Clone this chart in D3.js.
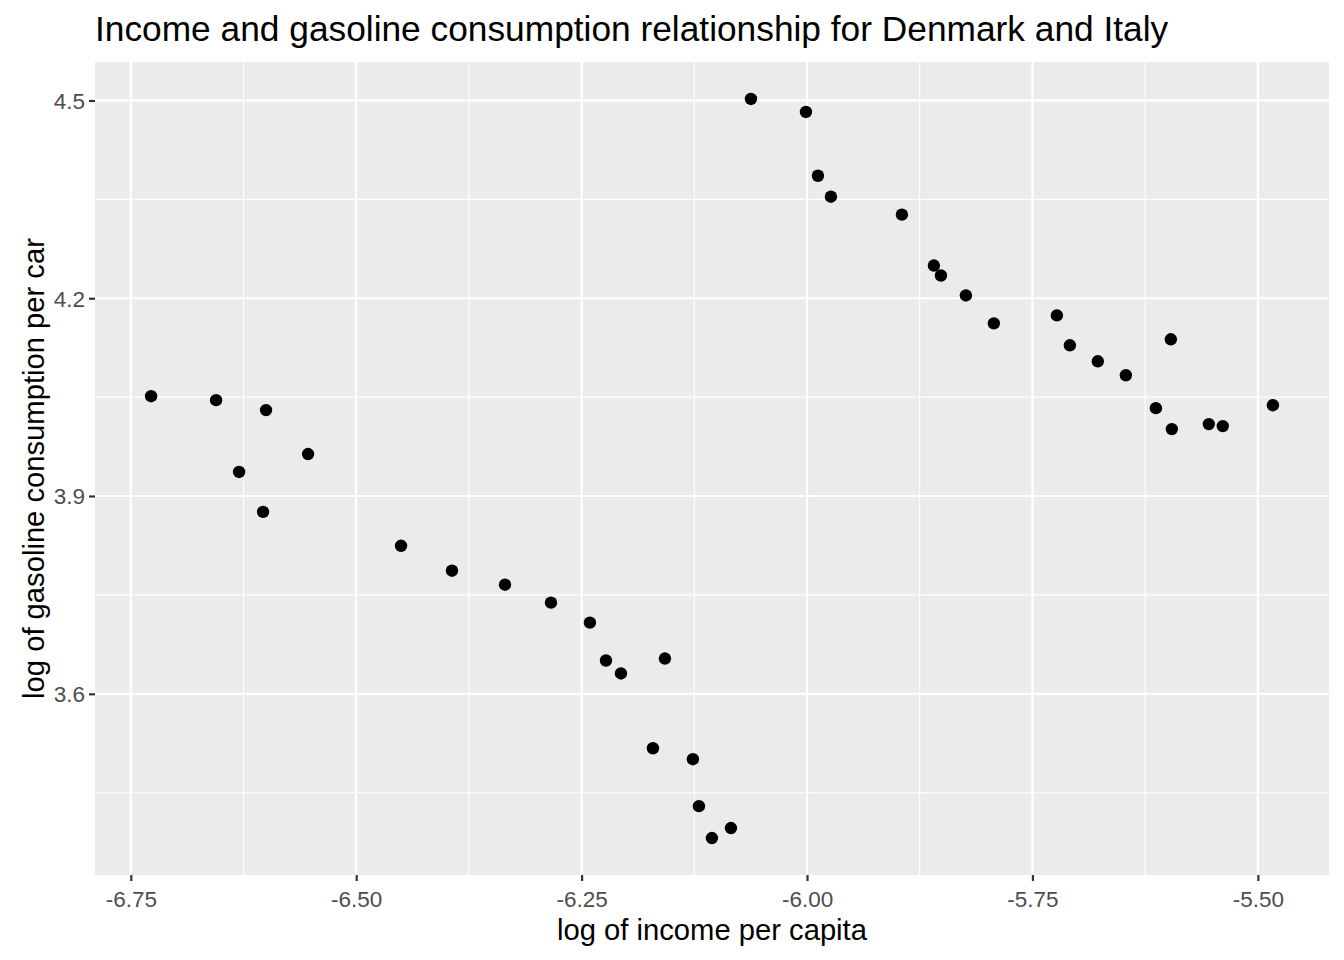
<!DOCTYPE html>
<html>
<head>
<meta charset="utf-8">
<script src="https://cdn.jsdelivr.net/npm/d3@7"></script>
<style>
  body { margin: 0; background: #fff; }
  svg { display: block; font-family: "Liberation Sans", Arial, Helvetica, sans-serif; }
</style>
</head>
<body>
<svg id="chart" width="1344" height="960"></svg>
<script>
const incomeValues = [
  -6.7275, -6.6554, -6.6000, -6.6299, -6.6033, -6.5534, -6.4503, -6.3938, -6.3350, -6.2840,
  -6.2408, -6.2230, -6.2064, -6.1576, -6.1709, -6.1266, -6.1199, -6.1055, -6.0844,
  -6.0622, -6.0012, -5.9879, -5.9735, -5.8948, -5.8593, -5.8515, -5.8238, -5.7928, -5.7229,
  -5.7085, -5.6775, -5.6464, -5.5965, -5.6131, -5.5954, -5.5544, -5.5389, -5.4833
];
const gasValues = [
  4.0514, 4.0454, 4.0303, 3.9365, 3.8759, 3.9637, 3.8245, 3.7867, 3.7655, 3.7383,
  3.7080, 3.6505, 3.6309, 3.6535, 3.5174, 3.5008, 3.4296, 3.3812, 3.3964,
  4.5023, 4.4826, 4.3858, 4.3540, 4.3268, 4.2496, 4.2345, 4.2042, 4.1619, 4.1740,
  4.1286, 4.1044, 4.0832, 4.1377, 4.0333, 4.0015, 4.0091, 4.0061, 4.0378
];
const xTicks = [-6.75, -6.50, -6.25, -6.00, -5.75, -5.50];
const xMinor = [-6.625, -6.375, -6.125, -5.875, -5.625];
const yTicks = [3.6, 3.9, 4.2, 4.5];
const yMinor = [3.45, 3.75, 4.05, 4.35];
const titleText = "Income and gasoline consumption relationship for Denmark and Italy";
const xLabel = "log of income per capita";
const yLabel = "log of gasoline consumption per car";

const data = incomeValues.map((x, i) => ({ x, y: gasValues[i] }));

const svg = d3.select("#chart");
const panel = { left: 95, right: 1329, top: 62, bottom: 875 };

const xExt = d3.extent(incomeValues), yExt = d3.extent(gasValues);
const xPad = (xExt[1] - xExt[0]) * 0.05, yPad = (yExt[1] - yExt[0]) * 0.05;
const x = d3.scaleLinear().domain([xExt[0] - xPad, xExt[1] + xPad]).range([panel.left, panel.right]);
const y = d3.scaleLinear().domain([yExt[0] - yPad, yExt[1] + yPad]).range([panel.bottom, panel.top]);

const hy = f => s => d3.format(f)(s).replace("\u2212", "-");

svg.append("rect")
  .attr("x", panel.left).attr("y", panel.top)
  .attr("width", panel.right - panel.left).attr("height", panel.bottom - panel.top)
  .attr("fill", "#EBEBEB");

const grid = svg.append("g");
grid.selectAll(".xmin").data(xMinor).enter().append("line")
  .attr("x1", d => x(d)).attr("x2", d => x(d))
  .attr("y1", panel.top).attr("y2", panel.bottom)
  .attr("stroke", "#fff").attr("stroke-width", 1.1);
grid.selectAll(".ymin").data(yMinor).enter().append("line")
  .attr("y1", d => y(d)).attr("y2", d => y(d))
  .attr("x1", panel.left).attr("x2", panel.right)
  .attr("stroke", "#fff").attr("stroke-width", 1.1);
grid.selectAll(".xmaj").data(xTicks).enter().append("line")
  .attr("x1", d => x(d)).attr("x2", d => x(d))
  .attr("y1", panel.top).attr("y2", panel.bottom)
  .attr("stroke", "#fff").attr("stroke-width", 2.2);
grid.selectAll(".ymaj").data(yTicks).enter().append("line")
  .attr("y1", d => y(d)).attr("y2", d => y(d))
  .attr("x1", panel.left).attr("x2", panel.right)
  .attr("stroke", "#fff").attr("stroke-width", 2.2);

// axes
const xAxis = d3.axisBottom(x).tickValues(xTicks).tickFormat(hy(".2f")).tickSize(6).tickPadding(5);
const gx = svg.append("g").attr("transform", `translate(0,${panel.bottom})`).call(xAxis);
gx.select(".domain").remove();
gx.attr("font-size", null).attr("font-family", null);
gx.selectAll(".tick line").attr("stroke", "#333333").attr("stroke-width", 2.2);
gx.selectAll(".tick text").attr("fill", "#4D4D4D").attr("font-size", 22.5)
  .attr("y", 32).attr("dy", 0);

const yAxis = d3.axisLeft(y).tickValues(yTicks).tickFormat(hy(".1f")).tickSize(6).tickPadding(4);
const gy = svg.append("g").attr("transform", `translate(${panel.left},0)`).call(yAxis);
gy.select(".domain").remove();
gy.attr("font-size", null).attr("font-family", null);
gy.selectAll(".tick line").attr("stroke", "#333333").attr("stroke-width", 2.2);
gy.selectAll(".tick text").attr("fill", "#4D4D4D").attr("font-size", 22.5).attr("dy", "0.35em");

// points
svg.append("g").selectAll("circle").data(data).enter().append("circle")
  .attr("cx", d => x(d.x)).attr("cy", d => y(d.y)).attr("r", 6.2).attr("fill", "#000");

// labels
svg.append("text").attr("x", panel.left).attr("y", 41)
  .attr("font-size", 35.3).attr("fill", "#000").text(titleText);
svg.append("text").attr("x", (panel.left + panel.right) / 2).attr("y", 940)
  .attr("text-anchor", "middle").attr("font-size", 29.2).attr("fill", "#000").text(xLabel);
svg.append("text")
  .attr("transform", `translate(44,${(panel.top + panel.bottom) / 2}) rotate(-90)`)
  .attr("text-anchor", "middle").attr("font-size", 29.2).attr("fill", "#000").text(yLabel);
</script>
</body>
</html>
